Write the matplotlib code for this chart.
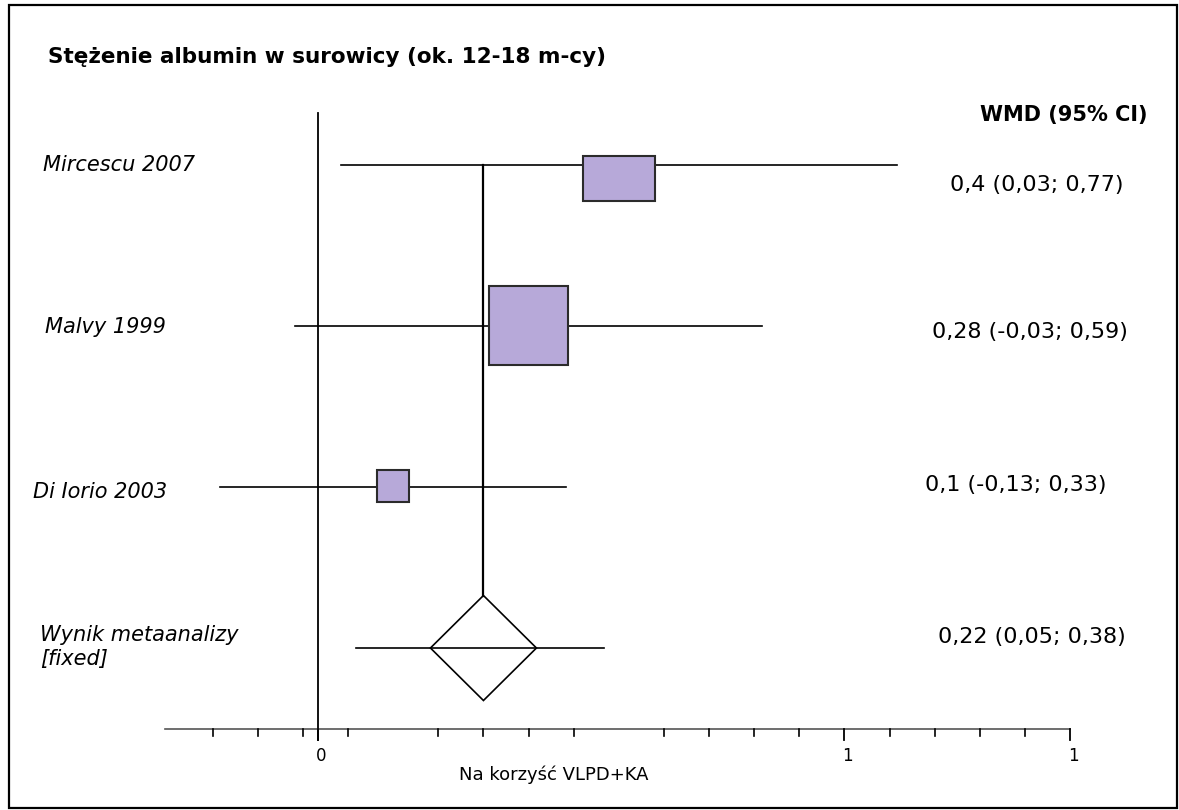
import matplotlib
matplotlib.use("Agg")
import matplotlib.pyplot as plt
from matplotlib.patches import Rectangle, Polygon

# --- data -------------------------------------------------------------
studies = ["Mircescu 2007", "Malvy 1999", "Di Iorio 2003"]
wmd = [0.40, 0.28, 0.10]
ci_low = [0.03, -0.03, -0.13]
ci_high = [0.77, 0.59, 0.33]

pooled_label = "Wynik metaanalizy\n[fixed]"
pooled_wmd = 0.22
pooled_low = 0.05
pooled_high = 0.38

value_labels = ["0,4 (0,03; 0,77)", "0,28 (-0,03; 0,59)",
                "0,1 (-0,13; 0,33)", "0,22 (0,05; 0,38)"]
title = "Stężenie albumin w surowicy (ok. 12-18 m-cy)"
col_header = "WMD (95% CI)"
x_label = "Na korzyść VLPD+KA"
major_ticks = [0.0, 0.70, 1.0]
major_labels = ["0", "1", "1"]
minor_ticks = [-0.14, -0.08, -0.02, 0.04, 0.16, 0.22, 0.28, 0.34,
               0.46, 0.52, 0.58, 0.64, 0.76, 0.82, 0.88, 0.94]

# --- layout / style ---------------------------------------------------
W, H = 1179, 810
fig = plt.figure(figsize=(W / 100, H / 100), dpi=100)
ax = fig.add_axes([0, 0, 1, 1])

x0_px, unit_px = 318.0, 752.0          # pixel of x=0 and pixels per unit
row0_px, row_px = 165.0, 161.0         # pixel of first row and row spacing
ax.set_xlim(-x0_px / unit_px, (W - x0_px) / unit_px)
ax.set_ylim((H - row0_px) / row_px, -row0_px / row_px)


def py(p):
    """pixel row -> row units"""
    return (p - row0_px) / row_px


def fx(p):
    return p / W


def fy(p):
    return 1 - p / H


FONT = "DejaVu Sans"
box_color = "#b7a9d9"
box_px = [(72, 45), (79, 79), (32, 32)]   # box width, height in pixels
box_shift_px = [14, 0, -1]                # vertical offset of box centre

for i, (m, lo, hi) in enumerate(zip(wmd, ci_low, ci_high)):
    ax.plot([lo, hi], [i, i], color="black", lw=1.2, zorder=2)
    bw = box_px[i][0] / unit_px
    bh = box_px[i][1] / row_px
    yc = i + box_shift_px[i] / row_px
    ax.add_patch(Rectangle((m - bw / 2, yc - bh / 2), bw, bh,
                           facecolor=box_color, edgecolor="#2b2b2b",
                           lw=1.5, zorder=3))

# pooled estimate
k = len(studies)
dw = 53 / unit_px
dh = 52.5 / row_px
ax.add_patch(Polygon([(pooled_wmd - dw, k), (pooled_wmd, k - dh),
                      (pooled_wmd + dw, k), (pooled_wmd, k + dh)],
                     closed=True, facecolor="none", edgecolor="black",
                     lw=1.2, zorder=3))
ax.plot([pooled_low, pooled_high], [k, k], color="black", lw=1.2, zorder=4)
ax.plot([pooled_wmd, pooled_wmd], [0, k - dh], color="black", lw=1.6, zorder=1)

# line of no effect
ax.plot([0, 0], [py(113), py(740)], color="black", lw=1.3, zorder=1)

# x axis at the bottom
axis_y = py(729)
ax.plot([-0.203, 1.0], [axis_y, axis_y], color="#555555", lw=1.2, zorder=1)
for t in minor_ticks:
    ax.plot([t, t], [axis_y, py(736)], color="black", lw=1.2)
for t, lab in zip(major_ticks, major_labels):
    ax.plot([t, t], [axis_y, py(740)], color="black", lw=1.3)
    ax.text(t + 3 / unit_px, py(756), lab, ha="center", va="center",
            fontsize=12, family=FONT)
ax.text(0.313, py(775), x_label, ha="center", va="center",
        fontsize=13, family=FONT)
ax.axis("off")

# texts
fig.text(fx(48), fy(57), title, fontsize=15.5, fontweight="bold",
         ha="left", va="center", family=FONT)
fig.text(fx(1148), fy(115), col_header, fontsize=15, fontweight="bold",
         ha="right", va="center", family=FONT)

label_pos = [(43, 165), (45, 327), (33, 492), (40, 647)]
for name, (lx, ly) in zip(studies + [pooled_label], label_pos):
    fig.text(fx(lx), fy(ly), name, fontsize=15, style="italic",
             ha="left", va="center", family=FONT, linespacing=1.3)

value_pos = [(1037, 185), (1030, 332), (1016, 485), (1032, 637)]
for lab, (vx, vy) in zip(value_labels, value_pos):
    fig.text(fx(vx), fy(vy), lab, fontsize=16, ha="center", va="center",
             family=FONT)

# outer frame
fig.add_artist(Rectangle((fx(9), fy(808)), fx(1177 - 9), (808 - 5) / H,
                         transform=fig.transFigure, fill=False,
                         edgecolor="black", lw=1.6))

fig.savefig("out.png", dpi=100, facecolor="white")
